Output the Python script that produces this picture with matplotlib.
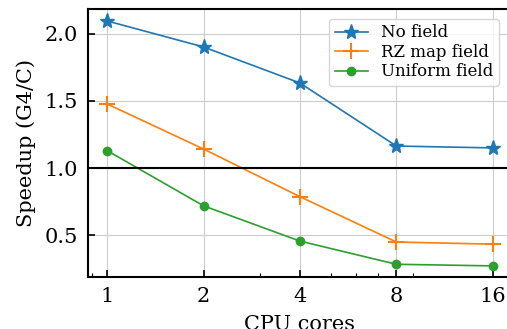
import numpy as np
import matplotlib.pyplot as plt
from matplotlib.ticker import LogLocator, FixedLocator, FixedFormatter, NullFormatter

plt.rcParams['font.family'] = 'DejaVu Serif'

cores = [1, 2, 4, 8, 16]
no_field = [2.097, 1.903, 1.634, 1.164, 1.150]
rz_map = [1.478, 1.142, 0.786, 0.448, 0.432]
uniform = [1.130, 0.718, 0.455, 0.282, 0.270]

fig = plt.figure(figsize=(5.07, 3.29), dpi=100)
ax = fig.add_axes([0.1736, 0.158, 0.836, 0.815])

ax.plot(cores, no_field, '-*', color='#1f77b4', ms=11, lw=1.2, label='No field')
ax.plot(cores, rz_map, '-+', color='#ff7f0e', ms=12, mew=1.5, lw=1.2, label='RZ map field')
ax.plot(cores, uniform, '-o', color='#2ca02c', ms=6, lw=1.2, label='Uniform field')
ax.axhline(1.0, color='black', lw=1.5)

ax.set_xscale('log', base=2)
ax.set_xlim(0.872, 16 * 2**0.197)
ax.set_ylim(0.187, 2.187)
ax.xaxis.set_major_locator(FixedLocator(cores))
ax.xaxis.set_major_formatter(FixedFormatter([str(c) for c in cores]))
ax.xaxis.set_minor_locator(LogLocator(base=10, subs=np.arange(2, 10)))
ax.xaxis.set_minor_formatter(NullFormatter())
ax.set_yticks([0.5, 1.0, 1.5, 2.0])

ax.grid(True, color='#cccccc', lw=0.8)
ax.set_axisbelow(True)
ax.tick_params(direction='in', labelsize=15, length=5, width=1.2, pad=7.5)
ax.tick_params(which='minor', direction='in', length=3, width=0.8)
for s in ax.spines.values():
    s.set_linewidth(1.5)

ax.set_xlabel('CPU cores', fontsize=15, labelpad=6)
ax.set_ylabel('Speedup (G4/C)', fontsize=15, labelpad=6)
ax.legend(loc='upper right', fontsize=12, bbox_to_anchor=(0.99, 0.995),
          handlelength=2.0, borderpad=0.35, labelspacing=0.15)

fig.savefig('out.png', dpi=100)
